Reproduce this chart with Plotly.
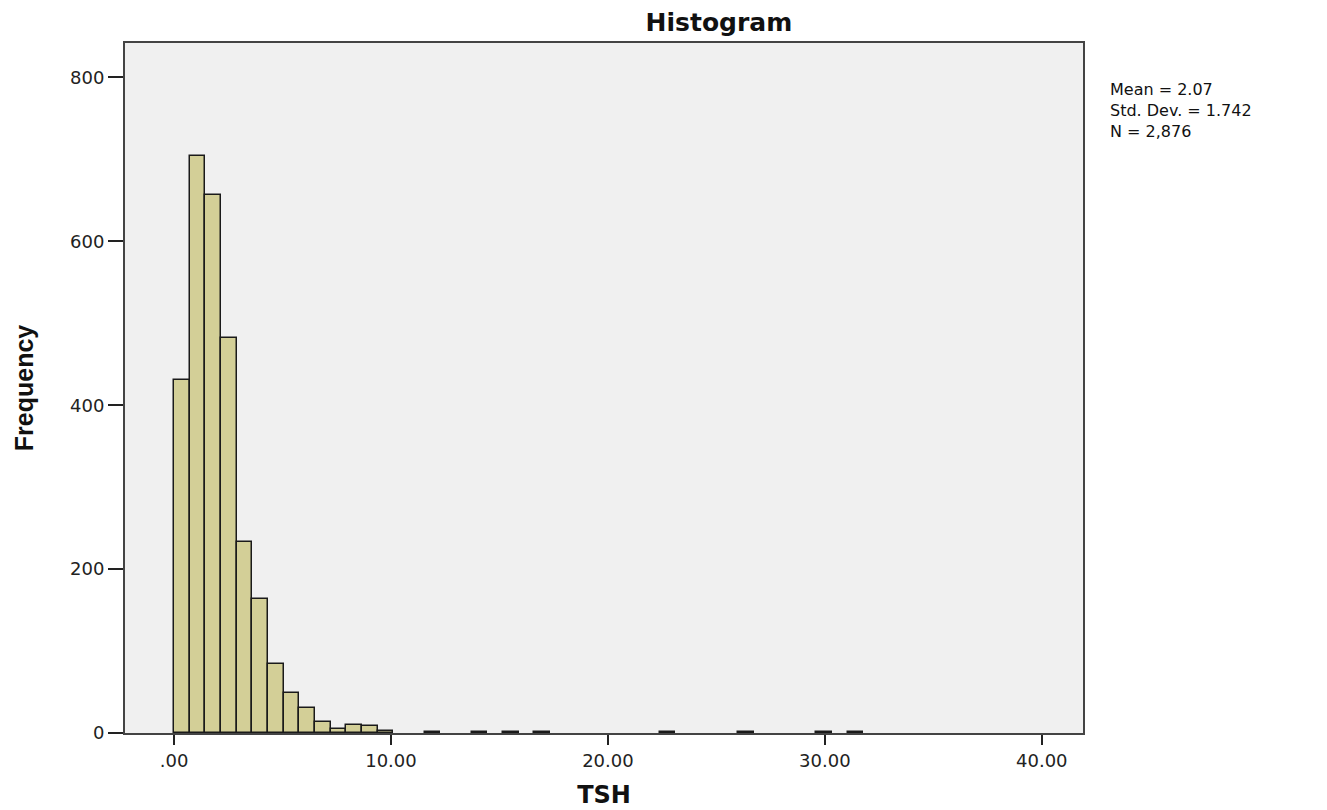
import plotly.graph_objects as go

bin_width = 0.722
bin_index = list(range(14)) + [16, 19, 21, 23, 31, 36, 41, 43]
counts = [431, 704, 657, 482, 233, 164, 84, 49, 31, 13, 5, 10, 8, 2,
          1, 1, 1, 1, 1, 1, 1, 1]
x_ticks = [0, 10, 20, 30, 40]
x_tick_labels = [".00", "10.00", "20.00", "30.00", "40.00"]
y_ticks = [0, 200, 400, 600, 800]
stats_text = "Mean = 2.07<br>Std. Dev. = 1.742<br>N = 2,876"

centers = [(i + 0.5) * bin_width for i in bin_index]

fig = go.Figure()
fig.add_trace(go.Bar(
    x=centers, y=counts, width=[bin_width] * len(centers),
    marker=dict(color="#D3CF97", line=dict(color="#1a1a1a", width=1.5)),
    showlegend=False,
))

axis_font = dict(family="DejaVu Sans", size=18, color="#222")
fig.update_layout(
    width=1319, height=802,
    margin=dict(l=117, r=244, t=35, b=77),
    paper_bgcolor="white", plot_bgcolor="#F0F0F0",
    bargap=0,
    title=dict(text="<b>Histogram</b>", x=0.539, xanchor="center", y=0.982, yanchor="middle",
               font=dict(family="DejaVu Sans", size=25, color="#111")),
    xaxis=dict(range=[-2.26, 41.9], tickvals=x_ticks, ticktext=x_tick_labels,
               ticks="outside", ticklen=10, tickwidth=2, tickcolor="#222",
               showgrid=False, zeroline=False, showline=True, linecolor="#444", linewidth=2,
               mirror=True, tickfont=axis_font, automargin=False,
               title=dict(text="<b>TSH</b>", font=dict(family="DejaVu Sans", size=24, color="#111"),
                          standoff=17)),
    yaxis=dict(range=[0, 842], tickvals=y_ticks, ticks="outside", ticklen=15, tickwidth=2,
               tickcolor="#222", showgrid=False, zeroline=False, showline=True,
               linecolor="#444", linewidth=2, mirror=True, tickfont=axis_font, automargin=False,
               title=dict(text="<b>Frequency</b>", font=dict(family="Liberation Sans Narrow, Liberation Sans", size=25, color="#111"),
                          standoff=29)),
    annotations=[dict(text=stats_text, xref="paper", yref="paper", x=1.026, y=0.95,
                      xanchor="left", yanchor="top", align="left", showarrow=False,
                      font=dict(family="DejaVu Sans", size=16, color="#111"))],
)
fig.write_html("out.html")
